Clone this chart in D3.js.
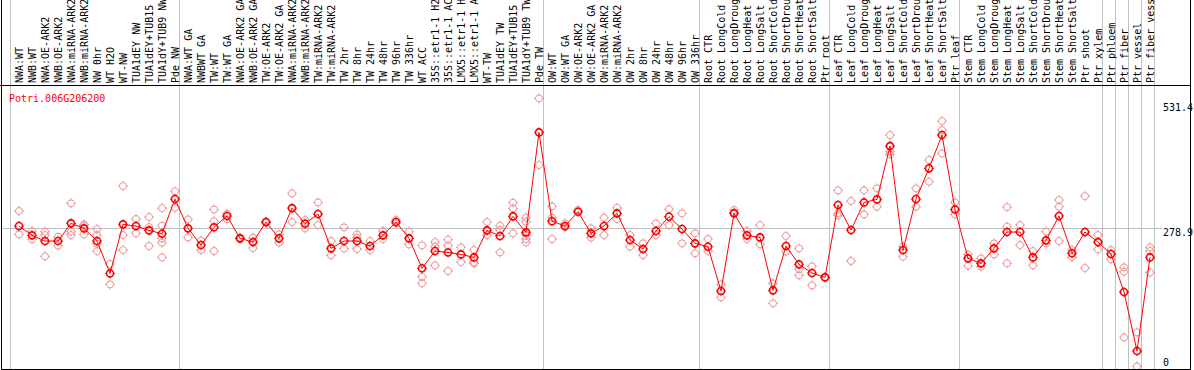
<!DOCTYPE html>
<html>
<head>
<meta charset="utf-8">
<script src="https://cdn.jsdelivr.net/npm/d3@7"></script>
<style>
  body { margin: 0; background: #fff; }
  svg text { font-family: "DejaVu Sans Mono", monospace; font-size: 10px; }
</style>
</head>
<body>
<div id="chart"></div>
<script>
const gene = "Potri.006G206200";

// sample labels, one array per tissue group
const nwLabels = ["NWA:WT","NWB:WT","NWA:OE-ARK2","NWB:OE-ARK2","NWA:miRNA-ARK2","NWB:miRNA-ARK2","NW 0hr","WT H2O","WT-NW","TUA1dEY NW","TUA1dEY+TUB15 NW","TUA1dY+TUB9 NW","Pde NW"];
const twLabels = ["NWA:WT GA","NWBWT GA","TW:WT","TW:WT GA","NWA:OE-ARK2 GA","NWB:OE-ARK2 GA","TW:OE-ARK2","TW:OE-ARK2 GA","NWA:miRNA-ARK2","NWB:miRNA-ARK2","TW:miRNA-ARK2","TW:miRNA-ARK2 GA","TW 2hr","TW 8hr","TW 24hr","TW 48hr","TW 96hr","TW 336hr","WT ACC","35S::etr1-1 H2O","35S::etr1-1 ACC","LMX5::etr1-1 H2O","LMX5::etr1-1 ACC","WT-TW","TUA1dEY TW","TUA1dEY+TUB15 TW","TUA1dY+TUB9 TW","Pde TW"];
const owLabels = ["OW:WT","OW:WT GA","OW:OE-ARK2","OW:OE-ARK2 GA","OW:miRNA-ARK2","OW:miRNA-ARK2 GA","OW 2hr","OW 8hr","OW 24hr","OW 48hr","OW 96hr","OW 336hr"];
const rootLabels = ["Root CTR","Root LongCold","Root LongDrought","Root LongHeat","Root LongSalt","Root ShortCold","Root ShortDrought","Root ShortHeat","Root ShortSalt","Ptr root"];
const leafLabels = ["Leaf CTR","Leaf LongCold","Leaf LongDrought","Leaf LongHeat","Leaf LongSalt","Leaf ShortCold","Leaf ShortDrought","Leaf ShortHeat","Leaf ShortSalt","Ptr leaf"];
const stemLabels = ["Stem CTR","Stem LongCold","Stem LongDrought","Stem LongHeat","Stem LongSalt","Stem ShortCold","Stem ShortDrought","Stem ShortHeat","Stem ShortSalt","Ptr shoot","Ptr xylem"];
const ptrLabels = ["Ptr phloem","Ptr fiber","Ptr vessel","Ptr fiber vessel"];

// mean expression
const nwMeans = [283.5,264.7,253.2,253.2,288.9,278.8,253.2,187.8,286.9,283.5,274.8,268.0,338.0];
const twMeans = [278.8,245.1,280.9,303.7,258.6,251.1,291.6,258.6,319.7,288.3,307.7,238.4,253.2,253.2,243.1,264.7,291.6,258.6,198.1,233.0,230.2,226.2,220.2,274.8,263.3,303.0,270.7,472.6];
const owMeans = [293.3,283.5,312.3,268.7,283.5,309.1,255.2,237.1,273.4,302.4,277.5,248.5];
const rootMeans = [241.7,152.3,309.1,264.7,260.6,153.6,243.1,206.1,188.5,179.8];
const leafMeans = [325.9,275.4,331.2,337.3,445.0,235.0,338.0,400.0,467.3,317.0];
const stemMeans = [218.2,208.1,238.4,271.4,271.4,220.2,254.6,303.7,228.4,271.4,251.1];
const ptrMeans = [227.0,150.3,31.1,220.2];

// replicate values
const nwReps = [[313.8,266.7],[273.4,256.6],[272.1,265.3,222.3],[262,243.8],[329.3,272.1,265.3],[286.9,284.2,266.7],[277.5,265.3,247.8,233],[206.8,165.7],[364.3,265.3,235],[297.7,268.7],[301.7,281.5,243.1],[319.7,284.2,258.6,249.8,220.2],[353.5,320.5]];
const twReps = [[297,260.6],[254,235],[316.9,293.3,233],[308.4,297],[260,257],[260,239.2],[292.5,290],[266.7,249.8],[349.5,291.6],[295.6,278.8],[331.2,285.5],[253.2,224.3],[280.9,238.4],[266.7,260,237.1],[253.2,235],[273.4,257.3],[295.6,289],[272.1,246.5],[244.5,181.2,167.7],[251.1,241.7,204.1],[255.9,243.8,192.7],[240.4,210.8],[235,210.8,208],[291.6,265.3],[284.2,275.4,230.2],[330.6,319.1,268.7],[300.4,292.3,265.3,257.3,250.5],[541.3,406.7]];
const owReps = [[323.1,300.4,257.3],[288.9,280.9],[315.8],[278.8,260],[300.4,265.3],[320.5,297.7],[265.3,241.7],[248.5,224.9],[288.9,265.3],[317.6,285.5],[309.1,248.5],[268.7,228.4]];
const rootReps = [[257.3,233],[165.7,139.5],[315.8,311],[273.4,257.3],[285.5,246.5],[167.7,127.4],[263.3,231.7],[238.4,196.7,183.9],[202.1,163.7],[181]];
const leafReps = [[355.5,309.1,305],[334,212.9],[355.5,307],[359.6,322.5],[467.3,433.6,428],[241.7,221.6],[359.6,322.5],[416.8,373],[495.5,477.3,430.3],[331.2,307]];
const stemReps = [[226.2,203.4],[218.2,201.4],[248.5,226.2],[321.8,282.2,208.1],[285.5,245.1],[233,204.1],[272.1,248.5],[336,322.5,253.2],[235,220.9],[344,198.7],[265.3,236.4]];
const ptrReps = [[235,216.2],[200.1,191.3,58.7],[68.8,0],[240.4,233,190]];

const yTicks = [0, 278.9, 531.4];
const yMax = 531.4;

const groups = [nwLabels, twLabels, owLabels, rootLabels, leafLabels, stemLabels, ["Ptr phloem"], ["Ptr fiber"], ["Ptr vessel"], ["Ptr fiber vessel"]];
const labels = [].concat(nwLabels, twLabels, owLabels, rootLabels, leafLabels, stemLabels, ptrLabels);
const means = [].concat(nwMeans, twMeans, owMeans, rootMeans, leafMeans, stemMeans, ptrMeans);
const reps = [].concat(nwReps, twReps, owReps, rootReps, leafReps, stemReps, ptrReps);

const width = 1194, height = 370;
const headerH = 85;
const plotBottom = 369.5;

let svg = d3.select("#chart").append("svg")
    .attr("width", width).attr("height", height);

let xScale = d3.scaleBand().domain(d3.range(labels.length)).range([10.5, 1154.5]);
let yScale = d3.scaleLinear().domain([0, yMax]).range([366.4, 103.3]);
const px = i => xScale(i) + 8.5;

// group separators
let bounds = [0];
groups.forEach(g => bounds.push(bounds[bounds.length - 1] + g.length));
svg.selectAll(".sep").data(bounds).enter().append("line")
    .attr("x1", d => d < labels.length ? xScale(d) : xScale(labels.length - 1) + xScale.bandwidth())
    .attr("x2", d => d < labels.length ? xScale(d) : xScale(labels.length - 1) + xScale.bandwidth())
    .attr("y1", 0).attr("y2", plotBottom)
    .attr("stroke", "#c0c0c0").attr("stroke-width", 1);

// mid reference line
svg.append("line")
    .attr("x1", 1.5).attr("x2", 1162)
    .attr("y1", Math.round(yScale(yTicks[1])) + 0.5).attr("y2", Math.round(yScale(yTicks[1])) + 0.5)
    .attr("stroke", "#c0c0c0");

// column labels
svg.selectAll(".lab").data(labels).enter().append("text")
    .attr("transform", (d, i) => "translate(" + (px(i) + 4.3) + ",83) rotate(-90)")
    .attr("fill", "#000")
    .text(d => d);

// frame
svg.append("line").attr("x1", 0).attr("x2", 1190.5).attr("y1", headerH + 0.5).attr("y2", headerH + 0.5).attr("stroke", "#000");
svg.append("rect").attr("x", 1.5).attr("y", -2).attr("width", 1189).attr("height", plotBottom + 2)
    .attr("fill", "none").attr("stroke", "#000");

// y axis on right
let yAxis = d3.axisRight(yScale).tickValues(yTicks).tickSize(0).tickFormat(d => d === 0 ? "0" : d3.format(".1f")(d));
let ag = svg.append("g").attr("transform", "translate(1162,0)").call(yAxis);
ag.select(".domain").remove();
ag.selectAll("text")
    .attr("x", 1).attr("font-family", "DejaVu Sans Mono").attr("font-size", 10).attr("fill", "#000")
    .attr("dy", d => d === 0 ? "-1.4" : "7.3");

svg.append("text").attr("x", 9).attr("y", 101.5).attr("fill", "#ff0000").text(gene);

// markers
let plot = svg.append("g");
svg.append("clipPath").attr("id", "clip").append("rect")
    .attr("x", 2).attr("y", headerH + 1).attr("width", 1188).attr("height", plotBottom - headerH - 1.5);
plot.attr("clip-path", "url(#clip)");

const stubs = "M0,-5V-3M0,3V5M-5,0H-3M3,0H5";
function marker(sel, color, sw) {
    sel.append("circle").attr("r", 3.5).attr("fill", "none").attr("stroke", color).attr("stroke-width", sw);
    sel.append("path").attr("d", stubs).attr("stroke", color).attr("stroke-width", 1);
}

let repPts = [];
reps.forEach((r, i) => r.forEach(v => repPts.push({i: i, v: v})));
plot.selectAll(".rep").data(repPts).enter().append("g")
    .attr("transform", d => "translate(" + px(d.i) + "," + yScale(d.v) + ")")
    .call(marker, "#eb9898", 1);

let line = d3.line().x((d, i) => px(i)).y(d => yScale(d));
plot.append("path").datum(means).attr("d", line)
    .attr("fill", "none").attr("stroke", "#ff0000").attr("stroke-width", 1);

plot.selectAll(".mean").data(means).enter().append("g")
    .attr("transform", (d, i) => "translate(" + px(i) + "," + yScale(d) + ")")
    .call(marker, "#ff0000", 1.6);
</script>
</body>
</html>
